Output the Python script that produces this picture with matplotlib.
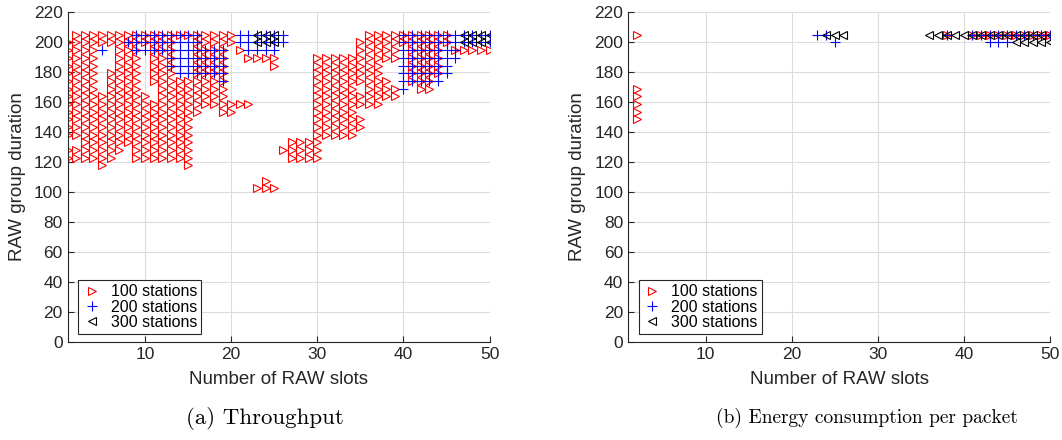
import numpy as np
import matplotlib.pyplot as plt

# RAW group durations used as the rows of the grid
levels = [102.4, 107.5, 112.6, 117.8, 122.9, 128.0, 133.1, 138.2, 143.4, 148.5,
          153.6, 158.7, 163.8, 168.9, 174.1, 179.2, 184.3, 189.4, 194.6, 199.7, 204.8]

# blocks: (first slot, last slot, lowest duration, highest duration)
thr_100 = [(1, 1, 138.2, 199.7), (1, 2, 122.9, 128.0), (2, 2, 138.2, 204.8),
           (3, 4, 122.9, 204.8), (5, 5, 117.8, 163.8), (5, 6, 199.7, 204.8),
           (6, 6, 122.9, 179.2), (7, 7, 128.0, 204.8), (8, 8, 133.1, 204.8),
           (9, 9, 122.9, 204.8), (10, 10, 122.9, 163.8), (10, 10, 199.7, 204.8),
           (11, 11, 122.9, 158.7), (11, 11, 174.1, 204.8), (12, 13, 122.9, 204.8),
           (14, 14, 122.9, 174.1), (15, 15, 117.8, 174.1), (14, 15, 204.8, 204.8),
           (16, 16, 153.6, 204.8), (17, 18, 158.7, 204.8), (19, 19, 153.6, 204.8),
           (20, 20, 153.6, 158.7), (20, 20, 199.7, 204.8), (21, 22, 158.7, 158.7),
           (21, 21, 194.6, 194.6), (22, 24, 189.4, 189.4), (23, 25, 102.4, 102.4),
           (24, 24, 107.5, 107.5), (25, 25, 184.3, 189.4), (26, 26, 128.0, 128.0),
           (27, 29, 122.9, 133.1), (30, 30, 122.9, 189.4), (31, 34, 138.2, 189.4),
           (35, 35, 143.4, 148.5), (35, 35, 158.7, 163.8), (35, 35, 174.1, 199.7),
           (36, 37, 158.7, 204.8), (38, 39, 189.4, 204.8), (38, 38, 163.8, 174.1),
           (39, 39, 163.8, 168.9), (40, 40, 199.7, 204.8), (41, 41, 174.1, 204.8),
           (42, 43, 168.9, 204.8), (44, 44, 179.2, 204.8), (45, 45, 199.7, 204.8),
           (46, 50, 194.6, 194.6)]
thr_200 = [(5, 5, 194.6, 194.6), (8, 8, 199.7, 199.7), (9, 12, 194.6, 204.8),
           (13, 13, 184.3, 204.8), (14, 16, 179.2, 204.8), (17, 18, 179.2, 194.6),
           (19, 19, 174.1, 194.6), (21, 21, 199.7, 204.8), (22, 25, 194.6, 204.8),
           (26, 26, 199.7, 204.8), (40, 40, 168.9, 204.8), (41, 44, 174.1, 204.8),
           (45, 45, 179.2, 204.8), (46, 46, 189.4, 204.8), (47, 50, 199.7, 204.8)]
thr_300 = [(23, 25, 199.7, 204.8), (47, 50, 199.7, 204.8)]

en_100 = [(2, 2, 148.5, 168.9), (2, 2, 204.8, 204.8), (38, 38, 204.8, 204.8),
          (41, 50, 204.8, 204.8)]
en_200 = [(23, 24, 204.8, 204.8), (25, 25, 199.7, 199.7), (38, 38, 204.8, 204.8),
          (41, 50, 204.8, 204.8), (43, 45, 199.7, 199.7)]
en_300 = [(24, 26, 204.8, 204.8), (36, 50, 204.8, 204.8), (46, 50, 199.7, 199.7)]

labels = ['100 stations', '200 stations', '300 stations']
captions = ['(a) Throughput', '(b) Energy consumption per packet']


def expand(blocks):
    xs, ys = [], []
    for x0, x1, lo, hi in blocks:
        for x in range(x0, x1 + 1):
            for v in levels:
                if lo - 0.01 <= v <= hi + 0.01:
                    xs.append(x)
                    ys.append(v)
    return xs, ys


sans = 'Liberation Sans'
axcol = '#262626'
fig = plt.figure(figsize=(10.62, 4.40), dpi=100)

panels = [(thr_100, thr_200, thr_300), (en_100, en_200, en_300)]
lefts = [67.6, 628.0]
cap_x = [265, 867]
cap_size = [16.5, 14]
ylab_x = [18, 578]

for i, (s1, s2, s3) in enumerate(panels):
    ax = fig.add_axes([lefts[i] / 1062, 98 / 440, 422 / 1062, 330 / 440])
    x, y = expand(s1)
    ax.plot(x, y, ls='none', marker='>', ms=5.6, mfc='none', mec='#ff0000', mew=0.8,
            label=labels[0])
    x, y = expand(s2)
    ax.plot(x, y, ls='none', marker='+', ms=6.5, mec='#0000ff', mew=0.8, label=labels[1])
    x, y = expand(s3)
    ax.plot(x, y, ls='none', marker='<', ms=5.6, mfc='none', mec='k', mew=0.8,
            label=labels[2])

    ax.set_xlim(1, 50)
    ax.set_ylim(0, 220)
    ax.set_xticks([10, 20, 30, 40, 50])
    ax.set_yticks(np.arange(0, 221, 20))
    ax.grid(True, color='#dcdcdc', lw=0.8)
    ax.set_axisbelow(True)
    for side in ['top', 'right']:
        ax.spines[side].set_visible(False)
    for side in ['left', 'bottom']:
        ax.spines[side].set_color(axcol)
        ax.spines[side].set_linewidth(0.8)
    ax.tick_params(direction='in', length=4, width=0.8, colors=axcol, labelsize=12.5)
    for t in ax.get_xticklabels() + ax.get_yticklabels():
        t.set_fontfamily(sans)

    leg = ax.legend(loc='lower left', bbox_to_anchor=(0.025, 0.024), borderaxespad=0,
                    fancybox=False, framealpha=1, edgecolor=axcol,
                    prop={'family': sans, 'size': 11.5}, handlelength=1.2,
                    handletextpad=0.6, labelspacing=0.02, borderpad=0.25)
    leg.get_frame().set_linewidth(0.8)

    cx = (lefts[i] + 211) / 1062
    fig.text(cx, 1 - 379 / 440, 'Number of RAW slots', ha='center', va='center',
             fontsize=13.5, family=sans, color=axcol)
    fig.text(ylab_x[i] / 1062, 1 - 177 / 440, 'RAW group duration', ha='center',
             va='center', rotation=90, fontsize=13.5, family=sans, color=axcol)
    fig.text(cap_x[i] / 1062, 1 - 418 / 440, captions[i], ha='center', va='center',
             fontsize=cap_size[i], family='cmr10')

fig.savefig('out.png', dpi=100)
